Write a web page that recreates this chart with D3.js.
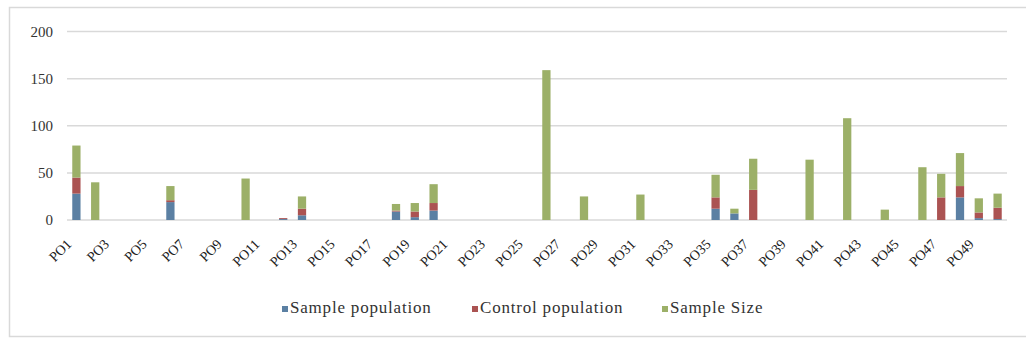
<!DOCTYPE html>
<html>
<head>
<meta charset="utf-8">
<script src="https://cdn.jsdelivr.net/npm/d3@7"></script>
<style>
  html, body { margin: 0; padding: 0; background: #fff; }
  svg { display: block; }
</style>
</head>
<body>
<svg id="chart" width="1026" height="343"></svg>
<script>
// Categories PO1 ... PO50
const categories = ["PO1","PO2","PO3","PO4","PO5","PO6","PO7","PO8","PO9","PO10",
  "PO11","PO12","PO13","PO14","PO15","PO16","PO17","PO18","PO19","PO20",
  "PO21","PO22","PO23","PO24","PO25","PO26","PO27","PO28","PO29","PO30",
  "PO31","PO32","PO33","PO34","PO35","PO36","PO37","PO38","PO39","PO40",
  "PO41","PO42","PO43","PO44","PO45","PO46","PO47","PO48","PO49","PO50"];

const samplePopulation = [28,0,0,0,0,19,0,0,0,0, 0,1,5,0,0,0,0,9,3,10, 0,0,0,0,0,0,0,0,0,0,
  0,0,0,0,12,7,0,0,0,0, 0,0,0,0,0,0,0,24,2,1];
const controlPopulation = [17,0,0,0,0,2,0,0,0,0, 0,1,7,0,0,0,0,1,6,8, 0,0,0,0,0,0,0,0,0,0,
  0,0,0,0,12,0,32,0,0,0, 0,0,0,0,0,0,24,12,6,12];
const sampleSize = [34,40,0,0,0,15,0,0,0,44, 0,0,13,0,0,0,0,7,9,20, 0,0,0,0,0,159,0,25,0,0,
  27,0,0,0,24,5,33,0,0,64, 0,108,0,11,0,56,25,35,15,15];

const seriesNames = ["Sample population", "Control population", "Sample Size"];
const seriesColors = ["#5b80a3", "#ab5352", "#9cb068"];
const yTicks = [0, 50, 100, 150, 200];
const xTickLabels = categories.filter((d, i) => i % 2 === 0);

const svg = d3.select("#chart");
const fontFamily = "'Liberation Serif', 'Times New Roman', serif";

// outer frame (open on the right edge of the canvas)
svg.append("rect")
  .attr("x", 9.5).attr("y", 7.5)
  .attr("width", 1030).attr("height", 329)
  .attr("fill", "none").attr("stroke", "#d9d9d9").attr("stroke-width", 1.5);

const plot = { left: 67, right: 1007, top: 31.5, bottom: 220 };

const x = d3.scaleBand()
  .domain(categories)
  .range([plot.left, plot.right])
  .paddingInner(0.56)
  .paddingOuter(0.28);

const y = d3.scaleLinear()
  .domain([0, 200])
  .range([plot.bottom, plot.top]);

// horizontal gridlines
svg.append("g")
  .selectAll("line")
  .data(yTicks)
  .join("line")
  .attr("x1", plot.left).attr("x2", plot.right)
  .attr("y1", d => y(d)).attr("y2", d => y(d))
  .attr("stroke", "#d9d9d9").attr("stroke-width", 1.5);

// y axis labels
const yAxis = svg.append("g")
  .attr("transform", `translate(${plot.left - 14},0)`)
  .call(d3.axisLeft(y).tickValues(yTicks).tickSize(0).tickPadding(0))
  .attr("font-family", fontFamily)
  .attr("font-size", 15);
yAxis.select(".domain").remove();
yAxis.selectAll("text").attr("fill", "#333");

// stacked bars
const rows = categories.map((c, i) => ({
  cat: c,
  "Sample population": samplePopulation[i],
  "Control population": controlPopulation[i],
  "Sample Size": sampleSize[i]
}));
const stacked = d3.stack().keys(seriesNames)(rows);

svg.append("g")
  .selectAll("g")
  .data(stacked)
  .join("g")
  .attr("fill", (d, i) => seriesColors[i])
  .selectAll("rect")
  .data(d => d.filter(s => s[1] - s[0] > 0))
  .join("rect")
  .attr("x", d => x(d.data.cat))
  .attr("width", x.bandwidth())
  .attr("y", d => y(d[1]))
  .attr("height", d => y(d[0]) - y(d[1]));

// x axis labels: every other category, rotated 45 degrees, anchored at their end
const labelOffsetX = -4, labelOffsetY = 25;
svg.append("g")
  .attr("font-family", fontFamily)
  .attr("font-size", 14)
  .selectAll("text")
  .data(xTickLabels)
  .join("text")
  .attr("text-anchor", "end")
  .attr("fill", "#222")
  .attr("transform", d =>
    `translate(${x(d) + x.bandwidth() / 2 + labelOffsetX},${plot.bottom + labelOffsetY}) rotate(-45)`)
  .text(d => d);

// legend
const legendItems = [
  { name: seriesNames[0], x: 282, color: seriesColors[0] },
  { name: seriesNames[1], x: 472, color: seriesColors[1] },
  { name: seriesNames[2], x: 662, color: seriesColors[2] }
];
const legend = svg.append("g")
  .attr("font-family", fontFamily)
  .attr("font-size", 17);
legendItems.forEach(it => {
  legend.append("rect")
    .attr("x", it.x).attr("y", 306)
    .attr("width", 6).attr("height", 6)
    .attr("fill", it.color);
  legend.append("text")
    .attr("x", it.x + 8).attr("y", 313)
    .attr("letter-spacing", 0.8)
    .attr("fill", "#333")
    .text(it.name);
});
</script>
</body>
</html>
